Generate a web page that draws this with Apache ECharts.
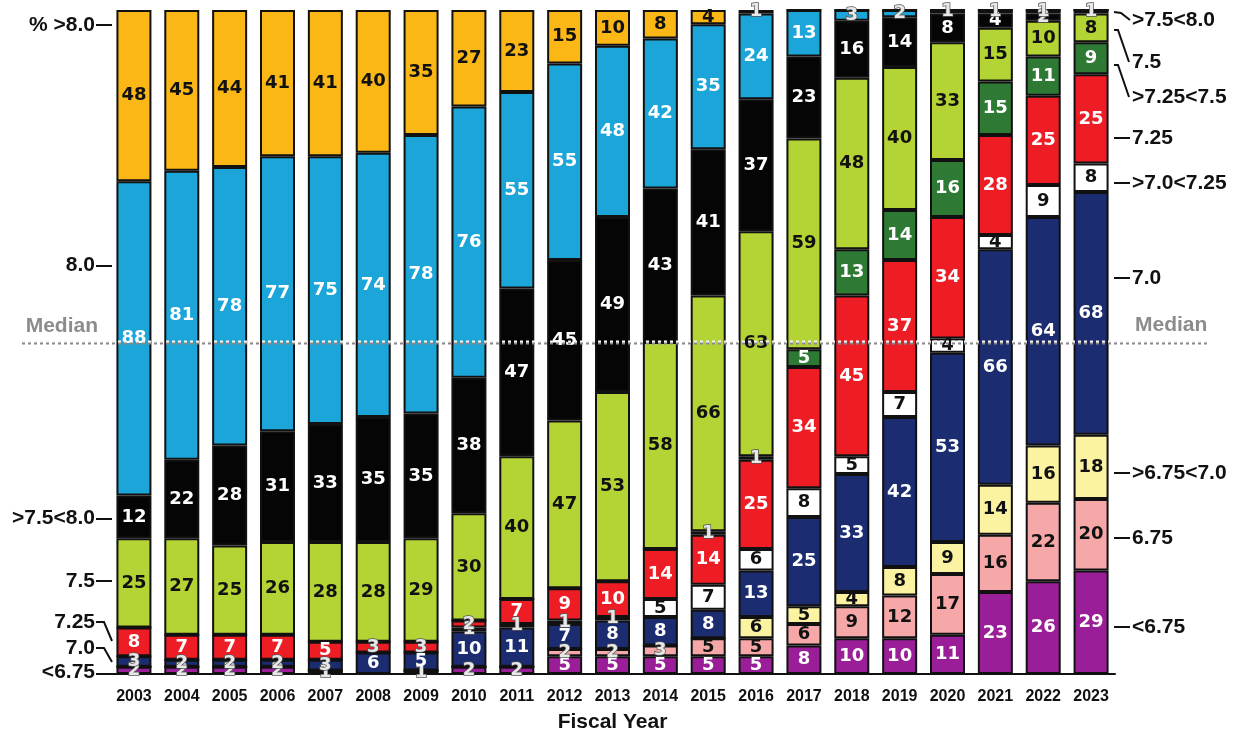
<!DOCTYPE html>
<html><head><meta charset="utf-8">
<script src="https://cdn.jsdelivr.net/npm/echarts@6/dist/echarts.min.js"></script>
<style>html,body{margin:0;padding:0;background:#fff}#c{width:1243px;height:738px}</style>
</head><body><div id="c"></div>
<script>
// ---- data (counts per fiscal year, bottom to top) ----
const years = ['2003','2004','2005','2006','2007','2008','2009','2010','2011','2012','2013','2014','2015','2016','2017','2018','2019','2020','2021','2022','2023'];
const catNames = ['<6.75','6.75','>6.75<7.0','7.0','>7.0<7.25','7.25','>7.25<7.5','7.5','>7.5<8.0','8.0','>8.0'];
const lt675   = [2,2,2,2,1,0,1,2,2,5,5,5,5,5,8,10,10,11,23,26,29];
const eq675   = [0,0,0,0,0,0,0,0,0,2,2,3,5,5,6,9,12,17,16,22,20];
const gt675   = [0,0,0,0,0,0,0,0,0,0,0,0,0,6,5,4,8,9,14,16,18];
const eq70    = [3,2,2,2,3,6,5,10,11,7,8,8,8,13,25,33,42,53,66,64,68];
const gt70    = [0,0,0,0,0,0,0,1,1,1,1,5,7,6,8,5,7,4,4,9,8];
const eq725   = [8,7,7,7,5,3,3,2,7,9,10,14,14,25,34,45,37,34,28,25,25];
const gt725   = [0,0,0,0,0,0,0,0,0,0,0,0,1,1,5,13,14,16,15,11,9];
const eq75    = [25,27,25,26,28,28,29,30,40,47,53,58,66,63,59,48,40,33,15,10,8];
const gt75    = [12,22,28,31,33,35,35,38,47,45,49,43,41,37,23,16,14,8,4,2,1];
const eq80    = [88,81,78,77,75,74,78,76,55,55,48,42,35,24,13,3,2,1,1,1,0];
const gt80    = [48,45,44,41,41,40,35,27,23,15,10,8,4,1,0,0,0,0,0,0,0];
const leftLabels  = ['% >8.0','8.0','Median','>7.5<8.0','7.5','7.25','7.0','<6.75'];
const rightLabels = ['>7.5<8.0','7.5','>7.25<7.5','7.25','>7.0<7.25','7.0','Median','>6.75<7.0','6.75','<6.75'];
const axisTitle = 'Fiscal Year';

// ---- styling ----
const seriesData = [lt675,eq675,gt675,eq70,gt70,eq725,gt725,eq75,gt75,eq80,gt80];
const colors = ['#9a1e97','#f6a8a8','#fbf3a2','#1c2c70','#ffffff','#ee1d25','#2e7a35','#b4d334','#050505','#1ca5d8','#fbb715'];
const textColors = ['#fff','#111','#111','#fff','#111','#fff','#fff','#111','#fff','#fff','#111'];
const total = years.map((_, i) => seriesData.reduce((s, a) => s + a[i], 0));
const maxTotal = Math.max(...total);

const chart = echarts.init(document.getElementById('c'));
const series = seriesData.map((arr, k) => ({
  name: catNames[k],
  type: 'bar',
  stack: 'all',
  barWidth: 35,
  itemStyle: { color: colors[k], borderColor: '#111', borderWidth: 2 },
  label: {
    show: true, position: 'inside',
    fontFamily: 'DejaVu Sans', fontWeight: 'bold', fontSize: 18,
    color: textColors[k],
    formatter: p => p.value > 0 ? String(p.value) : ''
  },
  data: arr.map(v => v <= 3 && v > 0 ? {
    value: v,
    label: { color: '#e8e8e8', textBorderColor: '#555', textBorderWidth: 1.5 }
  } : v)
}));

chart.setOption({
  animation: false,
  grid: { left: 110, right: 128, top: 10, bottom: 62 },
  xAxis: {
    type: 'category', data: years, offset: 10,
    axisLine: { lineStyle: { color: '#111', width: 2 } },
    axisTick: { show: false },
    axisLabel: { interval: 0, margin: 5, fontFamily: 'Liberation Sans', fontWeight: 'bold', fontSize: 16, color: '#111' },
    name: axisTitle, nameLocation: 'middle', nameGap: 28,
    nameTextStyle: { fontFamily: 'Liberation Sans', fontWeight: 'bold', fontSize: 21, color: '#111' }
  },
  yAxis: { type: 'value', min: 0, max: maxTotal, show: false },
  series
});

// ---- annotations ----
const medianY = chart.convertToPixel({ yAxisIndex: 0 }, maxTotal / 2);
const lblFont = { fontFamily: 'Liberation Sans', fontWeight: 'bold', fontSize: 21 };
function txt(s, x, y, align, fill) {
  return { type: 'text', x, y, z: 100,
    style: Object.assign({ text: s, fill: fill || '#111', align, verticalAlign: 'middle',
      textAlign: align, textVerticalAlign: 'middle' }, lblFont) };
}
function pl(points) {
  return { type: 'polyline', z: 100, shape: { points }, style: { stroke: '#111', lineWidth: 2, fill: null } };
}
const leftPos = [[95,25],[95,265],[98,medianY-16],[95,518],[95,581],[95,622],[95,648],[95,672]];
const g = [];
leftLabels.forEach((s, i) => {
  const [x, y] = leftPos[i];
  g.push(txt(s, x, y, 'right', s === 'Median' ? '#8c8c8c' : '#111'));
});
g.push(pl([[96,25],[112,25]]));
g.push(pl([[96,266],[112,266]]));
g.push(pl([[96,519],[112,519]]));
g.push(pl([[96,581],[112,581]]));
g.push(pl([[96,622],[104,622],[112,641]]));
g.push(pl([[96,648],[104,648],[112,662]]));
g.push(pl([[96,674],[112,674]]));

const rightPos = [[1132,20],[1132,62],[1132,97],[1132,138],[1132,183],[1132,278],[1135,medianY-17],[1132,473],[1132,538],[1132,627]];
rightLabels.forEach((s, i) => {
  const [x, y] = rightPos[i];
  g.push(txt(s, x, y, 'left', s === 'Median' ? '#8c8c8c' : '#111'));
});
g.push(pl([[1114,12],[1121,13],[1130,20]]));
g.push(pl([[1114,30],[1118,30],[1129,62]]));
g.push(pl([[1114,65],[1118,65],[1129,97]]));
g.push(pl([[1114,138],[1130,138]]));
g.push(pl([[1114,183],[1130,183]]));
g.push(pl([[1114,278],[1130,278]]));
g.push(pl([[1114,473],[1130,473]]));
g.push(pl([[1114,538],[1130,538]]));
g.push(pl([[1114,627],[1130,627]]));

// median dotted line
g.push({ type: 'line', z: 110, shape: { x1: 22, y1: medianY + 1, x2: 1210, y2: medianY + 1 },
  style: { stroke: '#8a8a8a', lineWidth: 3, lineDash: [3, 3] } });
g.push({ type: 'line', z: 111, shape: { x1: 22, y1: medianY - 0.5, x2: 1210, y2: medianY - 0.5 },
  style: { stroke: '#f4f4f4', lineWidth: 2, lineDash: [3, 3] } });

chart.setOption({ graphic: g });
</script>
</body></html>
